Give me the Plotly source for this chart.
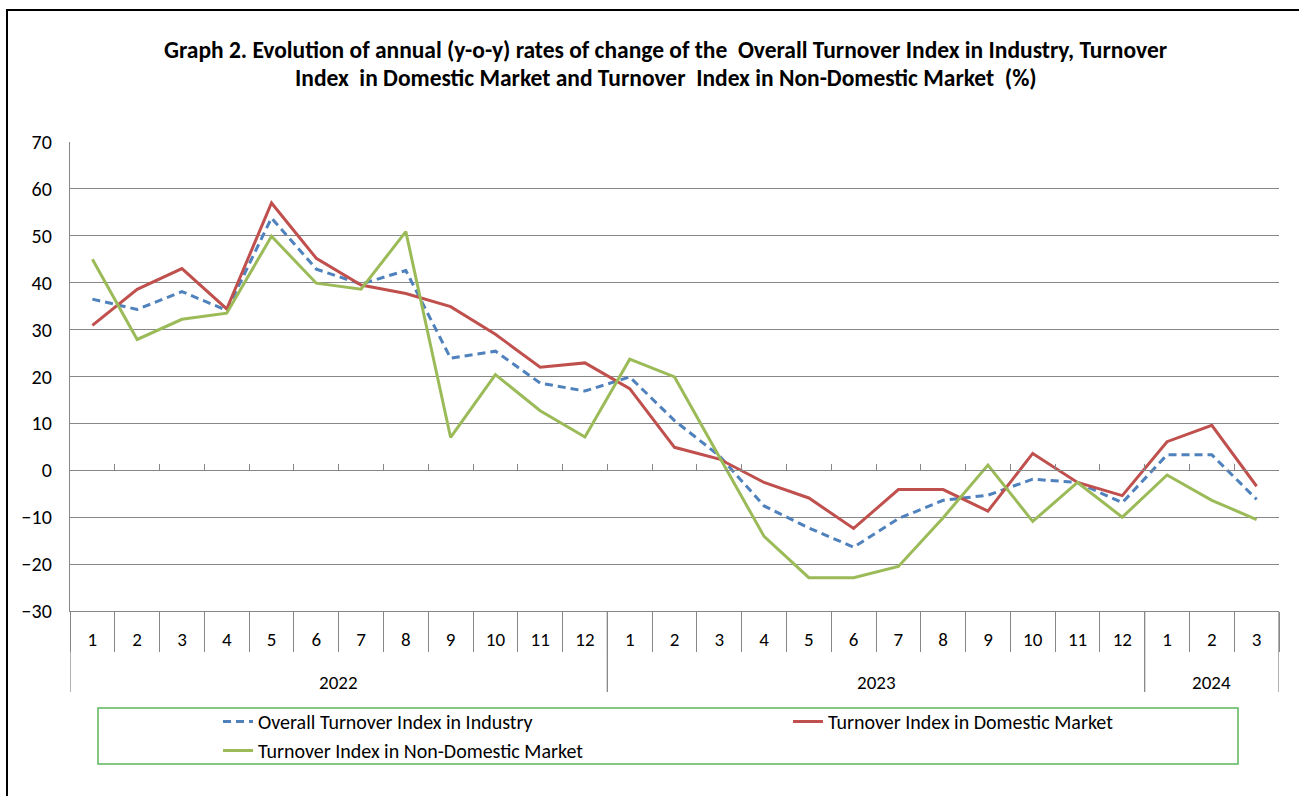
import plotly.graph_objects as go

# ---- data ----
years = ["2022"] * 12 + ["2023"] * 12 + ["2024"] * 3
months = [str(m) for m in range(1, 13)] * 2 + ["1", "2", "3"]

overall = [36.5, 34.3, 38.1, 34.1, 53.8, 42.9, 39.7, 42.6, 23.9, 25.4, 18.6, 16.9,
           19.9, 10.6, 3.1, -7.6, -12.3, -16.4, -10.3, -6.4, -5.3, -1.9, -2.6, -6.9,
           3.3, 3.3, -6.2]
domestic = [30.9, 38.6, 43.0, 34.4, 57.0, 45.2, 39.5, 37.7, 34.9, 29.0, 22.0, 22.9,
            17.4, 4.9, 2.4, -2.6, -5.9, -12.4, -4.1, -4.1, -8.7, 3.6, -2.6, -5.4,
            6.1, 9.6, -3.4]
non_domestic = [45.0, 27.9, 32.2, 33.5, 49.9, 39.9, 38.6, 50.9, 7.0, 20.4, 12.7, 7.1,
                23.7, 19.9, 2.9, -14.1, -22.9, -22.9, -20.5, -10.1, 1.1, -10.9, -2.6, -10.0,
                -1.0, -6.4, -10.5]

names = ["Overall Turnover Index in Industry",
         "Turnover Index in Domestic Market",
         "Turnover Index in Non-Domestic Market"]
title_lines = ["Graph 2. Evolution of annual (y-o-y) rates of change of the  Overall Turnover Index in Industry, Turnover",
               "Index  in Domestic Market and Turnover  Index in Non-Domestic Market  (%)"]

FONT = "Carlito, Lato, sans-serif"
GRID = "#878787"

# pixel geometry helpers (figure 1299x796, plot area 70..1279 x 142..611)
L, R, T, B = 70, 1279, 142, 611
def px(xp):
    return (xp - L) / (R - L)
def py(yp):
    return (B - yp) / (B - T)

cats = [f"{y}-{m}" for y, m in zip(years, months)]
n = len(cats)

fig = go.Figure()
fig.add_trace(go.Scatter(x=cats, y=overall, name=names[0], mode="lines", legend="legend",
                         line=dict(color="#4F81BD", width=3, dash="8px,5px")))
fig.add_trace(go.Scatter(x=cats, y=domestic, name=names[1], mode="lines", legend="legend2",
                         line=dict(color="#C0504D", width=3)))
fig.add_trace(go.Scatter(x=cats, y=non_domestic, name=names[2], mode="lines", legend="legend",
                         line=dict(color="#9BBB59", width=3)))
# helper trace for the zero-line axis (invisible)
fig.add_trace(go.Scatter(x=cats, y=overall, xaxis="x2", mode="lines",
                         line=dict(width=0, color="rgba(0,0,0,0)"),
                         showlegend=False, hoverinfo="skip"))

leg_common = dict(orientation="v", yanchor="top", xanchor="left",
                  font=dict(family=FONT, size=20, color="black"),
                  bgcolor="rgba(0,0,0,0)", borderwidth=0, tracegroupgap=0)

fig.update_layout(
    width=1299, height=796,
    margin=dict(l=L, r=1299 - R, t=T, b=796 - B),
    paper_bgcolor="white", plot_bgcolor="white",
    font=dict(family=FONT, size=19, color="black"),
    showlegend=True,
    legend=dict(x=px(218), y=py(702), **leg_common),
    legend2=dict(x=px(788), y=py(702), **leg_common),
    xaxis=dict(type="category", showgrid=False, showline=True, linecolor=GRID, linewidth=1.3,
               ticks="outside", ticklen=40, tickcolor=GRID, tickwidth=1.3,
               tickson="boundaries", ticklabelstandoff=11,
               tickmode="array", tickvals=cats, ticktext=months,
               tickfont=dict(family=FONT, size=19, color="black"),
               range=[-0.5, n - 0.5]),
    xaxis2=dict(type="category", overlaying="x", anchor="free", position=0.3,
                side="bottom",
                showgrid=False, showline=True, linecolor=GRID, linewidth=1.3,
                ticks="inside", ticklen=6, tickcolor=GRID, tickwidth=1.3,
                tickson="boundaries", showticklabels=False, range=[-0.5, n - 0.5]),
    yaxis=dict(range=[-30, 70], dtick=10, tick0=0, showgrid=True, gridcolor=GRID, gridwidth=1.3,
               zeroline=False, showline=True, linecolor=GRID, linewidth=1.3,
               ticks="", ticklabelstandoff=13,
               tickfont=dict(family=FONT, size=20, color="black")),
)

# year group labels and dividers (derived from the years list)
groups = []
start = 0
for i in range(1, n + 1):
    if i == n or years[i] != years[start]:
        groups.append((years[start], start, i - 1))
        start = i
for label, s, e in groups:
    fig.add_annotation(text=label, xref="x", yref="paper", x=(s + e) / 2, y=py(682),
                       showarrow=False, xanchor="center", yanchor="middle",
                       font=dict(family=FONT, size=19, color="black"))
bounds = sorted({s - 0.5 for _, s, _ in groups} | {e + 0.5 for _, _, e in groups})
for b in bounds:
    fig.add_shape(type="line", xref="x", yref="paper", x0=b, x1=b, y0=py(611), y1=py(692),
                  line=dict(color=GRID, width=1.3))

# title lines
fig.add_annotation(text="<b>" + title_lines[0] + "</b>", xref="paper", yref="paper",
                   x=px(666), y=py(50), showarrow=False,
                   xanchor="center", yanchor="middle",
                   font=dict(family=FONT, size=23.5, color="black"))
fig.add_annotation(text="<b>" + title_lines[1] + "</b>", xref="paper", yref="paper",
                   x=px(666), y=py(78), showarrow=False,
                   xanchor="center", yanchor="middle",
                   font=dict(family=FONT, size=23.5, color="black"))

# outer chart frame
fig.add_shape(type="rect", xref="paper", yref="paper",
              x0=px(7), x1=px(1320), y0=py(820), y1=py(10),
              line=dict(color="black", width=2), fillcolor="rgba(0,0,0,0)", layer="below")
# legend frame
fig.add_shape(type="rect", xref="paper", yref="paper",
              x0=px(98), x1=px(1238), y0=py(764), y1=py(708),
              line=dict(color="#5BB55B", width=1.5), fillcolor="rgba(0,0,0,0)")

fig.write_html("out.html", config={"displayModeBar": False},
               post_script="document.body.style.margin='0';")
